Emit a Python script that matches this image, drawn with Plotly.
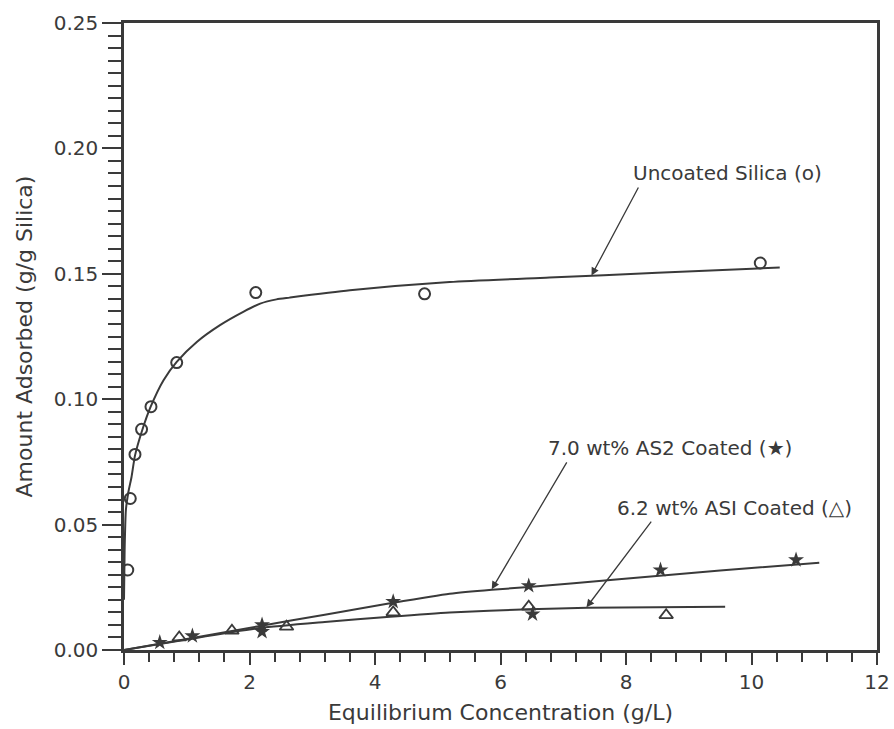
import plotly.graph_objects as go

# Measured adsorption points: equilibrium concentration (g/L) vs amount adsorbed (g/g silica)
uncoated_c = [0.06, 0.10, 0.175, 0.28, 0.43, 0.84, 2.10, 4.79, 10.14]
uncoated_q = [0.0319, 0.0604, 0.078, 0.088, 0.097, 0.1146, 0.1425, 0.142, 0.1543]

as2_c = [0.57, 1.09, 2.20, 2.20, 4.29, 6.45, 6.51, 8.55, 10.71]
as2_q = [0.0030, 0.0056, 0.0100, 0.0073, 0.0193, 0.0256, 0.0143, 0.0319, 0.0359]

as1_c = [0.88, 1.72, 2.59, 4.29, 6.45, 8.64]
as1_q = [0.0050, 0.0077, 0.0093, 0.0150, 0.0173, 0.0139]

# Fitted isotherm curves
uncoated_fit_c = [0.0, 0.01, 0.03, 0.07, 0.12, 0.175, 0.29, 0.425, 0.63, 0.84, 1.16,
                  1.53, 1.90, 2.17, 2.43, 2.64, 3.6, 5.19, 6.78, 8.5, 10.45]
uncoated_fit_q = [0.020, 0.040, 0.0558, 0.063, 0.0690, 0.0775, 0.0876, 0.0970, 0.1076, 0.1149, 0.1228,
                  0.1295, 0.1348, 0.1381, 0.1398, 0.1405, 0.1434, 0.1467, 0.1485, 0.1504, 0.1525]

as2_fit_c = [0.0, 1.0, 2.17, 3.2, 4.24, 5.19, 5.86, 6.45, 7.84, 9.5, 11.08]
as2_fit_q = [0.0, 0.0044, 0.0096, 0.0141, 0.0186, 0.0224, 0.0240, 0.0251, 0.0281, 0.0317, 0.0348]

as1_fit_c = [0.0, 1.0, 2.17, 3.2, 4.24, 5.19, 6.45, 7.38, 9.58]
as1_fit_q = [0.0, 0.0042, 0.0088, 0.0112, 0.0133, 0.0150, 0.0162, 0.0168, 0.0172]

ink = "#3a3a3a"
font_family = "DejaVu Sans"

fig = go.Figure()

for cx, qy in [(uncoated_fit_c, uncoated_fit_q), (as2_fit_c, as2_fit_q), (as1_fit_c, as1_fit_q)]:
    fig.add_trace(go.Scatter(x=cx, y=qy, mode="lines",
                             line=dict(color=ink, width=2, shape="spline", smoothing=0.6),
                             showlegend=False, hoverinfo="skip"))

fig.add_trace(go.Scatter(x=uncoated_c, y=uncoated_q, mode="markers", name="Uncoated Silica",
                         marker=dict(symbol="circle-open", size=11, color=ink, line=dict(width=2, color=ink)),
                         showlegend=False))
fig.add_trace(go.Scatter(x=as2_c, y=as2_q, mode="markers", name="7.0 wt% AS2 Coated",
                         marker=dict(symbol="star", size=12, color=ink, line=dict(width=0)),
                         showlegend=False))
fig.add_trace(go.Scatter(x=as1_c, y=as1_q, mode="markers", name="6.2 wt% ASI Coated",
                         marker=dict(symbol="triangle-up-open", size=12, color=ink, line=dict(width=1.8, color=ink)),
                         showlegend=False))

# Curve labels with leader arrows
labels = [
    ("Uncoated Silica (o)", 8.08, 0.190, 8.21, 0.185, 7.45, 0.1493),
    ("7.0 wt% AS2 Coated (★)", 6.73, 0.0805, 7.07, 0.0754, 5.86, 0.0242),
    ("6.2 wt% ASI Coated (△)", 7.83, 0.0565, 8.42, 0.0518, 7.37, 0.0170),
]
for text, tx, ty, axx, ayy, hx, hy in labels:
    fig.add_annotation(x=tx, y=ty, xref="x", yref="y", text=text, showarrow=False,
                       xanchor="left", yanchor="middle",
                       font=dict(family=font_family, size=20, color=ink))
    fig.add_annotation(x=hx, y=hy, ax=axx, ay=ayy, xref="x", yref="y", axref="x", ayref="y",
                       text="", showarrow=True, arrowhead=2, arrowsize=1.2, arrowwidth=1.3,
                       arrowcolor=ink, standoff=0, startstandoff=0)

fig.update_xaxes(range=[0, 12], dtick=2, tick0=0, ticks="outside", ticklen=12, tickwidth=2,
                 tickcolor=ink, showline=True, linewidth=2.5, linecolor=ink, mirror=True,
                 showgrid=False, zeroline=False,
                 minor=dict(dtick=0.4, ticks="outside", ticklen=9, tickwidth=2, tickcolor=ink),
                 tickfont=dict(family=font_family, size=20, color=ink),
                 title=dict(text="Equilibrium Concentration (g/L)", standoff=12,
                            font=dict(family=font_family, size=22, color=ink)))
fig.update_yaxes(range=[0, 0.25], dtick=0.05, tick0=0, tickformat=".2f", ticks="outside",
                 ticklen=19, tickwidth=2, tickcolor=ink, showline=True, linewidth=2.5,
                 linecolor=ink, mirror=True, showgrid=False, zeroline=False,
                 minor=dict(dtick=0.005, ticks="outside", ticklen=13, tickwidth=2, tickcolor=ink),
                 tickfont=dict(family=font_family, size=20, color=ink),
                 title=dict(text="Amount Adsorbed (g/g Silica)", standoff=16,
                            font=dict(family=font_family, size=22, color=ink)))

fig.update_layout(width=894, height=729, paper_bgcolor="white", plot_bgcolor="white",
                  margin=dict(l=124, r=17, t=23, b=79, autoexpand=False),
                  font=dict(family=font_family, color=ink))

fig.write_html("out.html")
